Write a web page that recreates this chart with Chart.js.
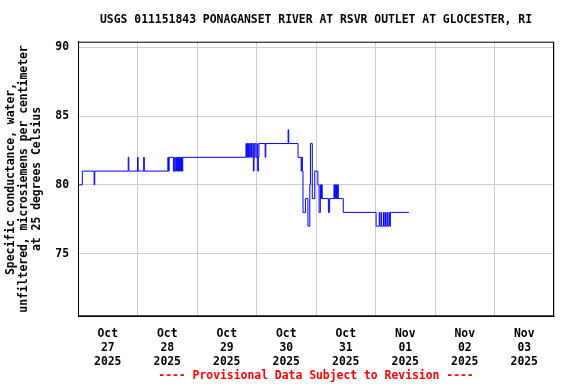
<!DOCTYPE html>
<html>
<head>
<meta charset="utf-8">
<script src="https://cdn.jsdelivr.net/npm/chart.js@4.4.1/dist/chart.umd.min.js"></script>
<style>
  html, body { margin: 0; padding: 0; background: #fff; }
  #wrap { width: 576px; height: 384px; }
</style>
</head>
<body>
<div id="wrap"><canvas id="chart" width="576" height="384"></canvas></div>
<script>
// Readings (hours after Oct 27 2025 00:00) where the value changes
const hours = [
  0, 1.75, 6.5, 6.75, 20.25, 20.5, 24, 24.25, 26.5, 26.75,
  36.25, 36.5, 36.75, 38.5, 39, 39.25, 39.75, 40, 40.25, 40.5, 40.75, 41, 41.25, 41.5, 41.75, 42, 42.25,
  67.75, 68, 68.25, 68.5, 68.75, 69.25, 69.5, 70, 70.25, 70.75, 71, 71.25, 71.75, 72.25, 72.5, 72.75, 73,
  75.5, 75.75, 84.75, 85, 88.75, 90, 90.25, 90.5, 90.75, 91.75, 92.75, 93.5, 93.75, 94.5, 95.5,
  96.75, 97.25, 97.75, 98, 98.25, 98.5, 101, 101.5, 103.25, 103.5, 103.75, 104, 104.25, 104.5, 104.75, 105,
  107, 120.25, 121.5, 121.75, 122.25, 122.5, 123.25, 123.5, 124, 124.25, 124.75, 125, 125.5, 125.75, 126, 133.5
];
const conductance = [
  80, 81, 80, 81, 82, 81, 82, 81, 82, 81,
  82, 81, 82, 81, 82, 81, 82, 81, 82, 81, 82, 81, 82, 81, 82, 81, 82,
  83, 82, 83, 82, 83, 82, 83, 82, 83, 81, 82, 83, 82, 83, 81, 82, 83,
  82, 83, 84, 83, 82, 81, 82, 81, 78, 79, 77, 80, 83, 79, 81,
  80, 78, 80, 79, 80, 79, 78, 79, 80, 79, 80, 79, 80, 79, 80, 79,
  78, 77, 78, 77, 78, 77, 78, 77, 78, 77, 78, 77, 78, 77, 78, 78
];

// Axis ticks
const dayBoundaryHours = [0, 24, 48, 72, 96, 120, 144, 168, 192];
const dayLabelHours = [12, 36, 60, 84, 108, 132, 156, 180];
const dayLabels = [
  ['Oct', '27', '2025'], ['Oct', '28', '2025'], ['Oct', '29', '2025'], ['Oct', '30', '2025'],
  ['Oct', '31', '2025'], ['Nov', '01', '2025'], ['Nov', '02', '2025'], ['Nov', '03', '2025']
];
const yTicks = [75, 80, 85, 90];

const FONT = 'DejaVu Sans Mono';
const font = { family: FONT, size: 11.4, weight: 'bold' };

// black frame round the plot area, titles centred over the plot area
const frame = {
  id: 'frame',
  afterLayout(chart) {
    const a = chart.chartArea;
    chart.boxes.forEach(b => {
      if (b.options && b.options.text !== undefined && !b.axis) {
        b.left = a.left;
        b.right = a.right;
        b.width = a.right - a.left;
      }
    });
  },
  afterDraw(chart) {
    const { ctx, chartArea: a } = chart;
    ctx.save();
    ctx.strokeStyle = '#000';
    ctx.lineWidth = 1;
    ctx.strokeRect(a.left + 0.5, a.top + 0.5, a.right - a.left - 1, a.bottom - a.top - 1);
    ctx.restore();
  }
};

new Chart(document.getElementById('chart').getContext('2d'), {
  type: 'line',
  data: {
    datasets: [{
      data: hours.map((h, i) => ({ x: h, y: conductance[i] })),
      borderColor: '#0000ff',
      borderWidth: 1,
      pointRadius: 0,
      stepped: 'before',
      fill: false,
      xAxisID: 'x',
      yAxisID: 'y'
    }]
  },
  options: {
    responsive: false,
    animation: false,
    layout: { padding: { left: 0, right: 22, top: 0, bottom: 0 } },
    plugins: {
      legend: { display: false },
      tooltip: { enabled: false },
      title: {
        display: true,
        text: 'USGS 011151843 PONAGANSET RIVER AT RSVR OUTLET AT GLOCESTER, RI',
        color: '#000',
        font: font,
        padding: { top: 13, bottom: 15 }
      },
      subtitle: {
        display: true,
        position: 'bottom',
        text: '---- Provisional Data Subject to Revision ----',
        color: '#ff0000',
        font: font,
        padding: { top: 2, bottom: 1 }
      }
    },
    scales: {
      x: {
        type: 'linear',
        min: 0,
        max: 192,
        afterBuildTicks: s => { s.ticks = dayBoundaryHours.map(v => ({ value: v })); },
        ticks: { display: false },
        grid: { color: '#cccccc', drawTicks: false },
        border: { display: true, color: '#000' },
        afterFit: s => { s.height = 0; }
      },
      x2: {
        type: 'linear',
        position: 'bottom',
        min: 0,
        max: 192,
        afterBuildTicks: s => { s.ticks = dayLabelHours.map(v => ({ value: v })); },
        ticks: {
          autoSkip: false,
          maxRotation: 0,
          padding: 11,
          color: '#000',
          font: { family: FONT, size: 11.4, weight: 'bold', lineHeight: '14px' },
          callback: (v) => dayLabels[dayLabelHours.indexOf(v)]
        },
        grid: { display: false, drawTicks: false },
        border: { display: false },
        afterFit: s => { s.height = 51; }
      },
      y: {
        min: 70.45,
        max: 90.4,
        afterBuildTicks: s => { s.ticks = yTicks.map(v => ({ value: v })); },
        ticks: { color: '#000', font: font, padding: 9 },
        grid: { color: '#cccccc', drawTicks: false },
        border: { display: true, color: '#000' },
        title: {
          display: true,
          text: ['Specific conductance, water,', 'unfiltered, microsiemens per centimeter', 'at 25 degrees Celsius'],
          color: '#000',
          font: { family: FONT, size: 11.4, weight: 'bold', lineHeight: '13px' },
          padding: { top: 5, bottom: 0 }
        },
        afterFit: s => { s.width = 78; }
      }
    }
  },
  plugins: [frame]
});
</script>
</body>
</html>
